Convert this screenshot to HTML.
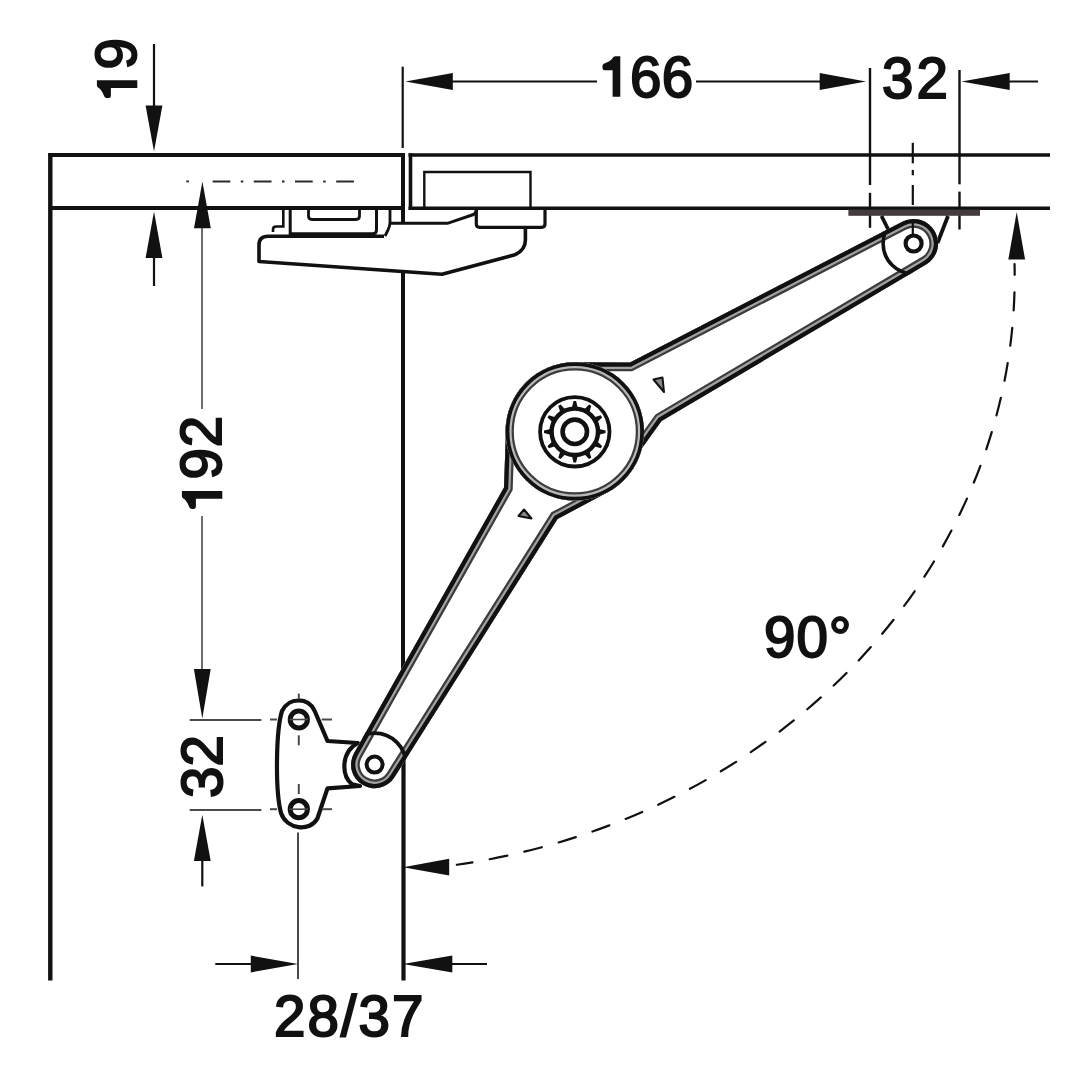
<!DOCTYPE html>
<html><head><meta charset="utf-8"><style>
html,body{margin:0;padding:0;background:#fff;}
svg{display:block;}
text{font-family:"Liberation Sans",sans-serif;font-size:56.5px;fill:#111111;stroke:#111111;stroke-width:2px;}
.h{fill:none;stroke:none;}
</style></head><body>
<svg width="1080" height="1080" viewBox="0 0 1080 1080">
<rect width="1080" height="1080" fill="#fff"/>
<line x1="48.5" y1="155" x2="404.5" y2="155" stroke="#111111" stroke-width="4" />
<line x1="50.3" y1="153" x2="50.3" y2="980.5" stroke="#111111" stroke-width="4.4" />
<line x1="50" y1="208" x2="403" y2="208" stroke="#111111" stroke-width="4" />
<line x1="403" y1="153" x2="403" y2="671" stroke="#111111" stroke-width="4" />
<line x1="403.5" y1="760" x2="403.5" y2="980.5" stroke="#111111" stroke-width="4.2" />
<line x1="408.5" y1="155" x2="1050" y2="155" stroke="#111111" stroke-width="3.6" />
<line x1="410.5" y1="153.2" x2="410.5" y2="210" stroke="#111111" stroke-width="3.6" />
<line x1="408.5" y1="208.2" x2="1050" y2="208.2" stroke="#111111" stroke-width="3.6" />
<polyline points="424.3,208 424.3,172 530.5,172 530.5,208" fill="none" stroke="#111111" stroke-width="2.4"/>
<path d="M268,236.3 Q259,236.3 259,245 V261.5 L442,274.3 L515,254.7 Q525.4,250 525.4,240 V227.3 H476.3 V212 L447.5,223.3 H390 L385,236 Z" fill="#fff"/>
<path d="M476.3,208 V224 Q476.3,227.3 479.6,227.3 H541.7 Q545,227.3 545,224 V208" fill="none" stroke="#111111" stroke-width="3.2"/>
<path d="M283.3,208 V226.5 H276 Q273,226.5 273,229.5 V232" fill="none" stroke="#111111" stroke-width="2.6"/>
<path d="M290.2,208 V233.8 H372.5 Q376.5,233.8 376.5,229.8 V208" fill="none" stroke="#111111" stroke-width="3"/>
<path d="M308.5,208 V216 Q308.5,219.5 312,219.5 H356 Q359.5,219.5 359.5,216 V208" fill="none" stroke="#111111" stroke-width="2.8"/>
<path d="M390,208 V222 Q390,226 388,230 L385,236" fill="none" stroke="#111111" stroke-width="2.8"/>
<path d="M390,223.3 H447.5 L473.5,214.5 Q476.3,213 476.3,210" fill="none" stroke="#111111" stroke-width="3"/>
<path d="M384,236.3 H268 Q259,236.3 259,245 V261.5 L442,274.3 L515,254.7 Q525.4,250 525.4,240 V227.3" fill="none" stroke="#111111" stroke-width="3.6" stroke-linejoin="round"/>
<line x1="154" y1="44" x2="154" y2="106" stroke="#111111" stroke-width="2.2" />
<polygon points="154.0,151.5 145.6,105.5 162.4,105.5" fill="#111111"/>
<polygon points="154.0,211.5 162.4,258.0 145.6,258.0" fill="#111111"/>
<line x1="154" y1="257" x2="154" y2="286" stroke="#111111" stroke-width="2.2" />
<text x="136" y="102" letter-spacing="1" transform="rotate(-90 136 102)"><tspan class="h">1</tspan>9</text>
<path d="M0,0 L0,40.4 L-7.7,40.4 L-7.7,14 L-15.5,14 Q-17.8,14 -17.8,12 L-17.8,9.5 Q-17.8,8 -16,7.3 Q-9.5,5 -7.5,1.5 Q-6.8,0 -5,0 Z" transform="translate(96.9 80.3) rotate(-90)" fill="#111111"/>
<line x1="402.7" y1="66.7" x2="402.7" y2="148" stroke="#111111" stroke-width="2.2" />
<polygon points="405.4,81.5 452.8,73.1 452.8,89.9" fill="#111111"/>
<line x1="452" y1="81.5" x2="597" y2="81.5" stroke="#111111" stroke-width="2" />
<text x="598" y="97" letter-spacing="0.5"><tspan class="h">1</tspan>66</text>
<path d="M0,0 L0,40.4 L-7.7,40.4 L-7.7,14 L-15.5,14 Q-17.8,14 -17.8,12 L-17.8,9.5 Q-17.8,8 -16,7.3 Q-9.5,5 -7.5,1.5 Q-6.8,0 -5,0 Z" transform="translate(620.3 56.3)" fill="#111111"/>
<line x1="696" y1="81.5" x2="821" y2="81.5" stroke="#111111" stroke-width="2" />
<polygon points="866.0,81.5 819.7,89.9 819.7,73.1" fill="#111111"/>
<line x1="870" y1="68" x2="870" y2="185" stroke="#111111" stroke-width="2.4" />
<line x1="870" y1="192.8" x2="870" y2="227.8" stroke="#111111" stroke-width="2.4" />
<text x="882" y="98" letter-spacing="3">32</text>
<line x1="959.5" y1="70" x2="959.5" y2="184.3" stroke="#111111" stroke-width="2.4" />
<line x1="959.5" y1="191.6" x2="959.5" y2="229.5" stroke="#111111" stroke-width="2.4" />
<polygon points="961.5,81.5 1009.7,73.1 1009.7,89.9" fill="#111111"/>
<line x1="1009" y1="81.5" x2="1038" y2="81.5" stroke="#111111" stroke-width="2" />
<line x1="912.8" y1="142.8" x2="912.8" y2="163.3" stroke="#111111" stroke-width="2.2" />
<line x1="912.8" y1="169.9" x2="912.8" y2="175.3" stroke="#111111" stroke-width="2.2" />
<line x1="912.8" y1="185" x2="912.8" y2="205" stroke="#111111" stroke-width="2.2" />
<rect x="848.4" y="209.6" width="131.6" height="6.2" fill="#433b3e"/>
<path d="M881.5,216 L889.5,232" stroke="#111111" stroke-width="3.8" fill="none"/>
<path d="M948,216 L937.5,243" stroke="#111111" stroke-width="3.8" fill="none"/>
<line x1="212.6" y1="181.4" x2="358" y2="181.4" stroke="#2a2a2a" stroke-width="2" stroke-dasharray="17.7 10.5 2.5 10.5"/>
<line x1="186.3" y1="181.4" x2="188.8" y2="181.4" stroke="#2a2a2a" stroke-width="2" />
<polygon points="202.4,181.4 210.8,228.2 194.0,228.2" fill="#111111"/>
<line x1="202" y1="228" x2="202" y2="409" stroke="#4a4a4a" stroke-width="1.6" />
<text x="221" y="512" letter-spacing="1" transform="rotate(-90 221 512)"><tspan class="h">1</tspan>92</text>
<path d="M0,0 L0,40.4 L-7.7,40.4 L-7.7,14 L-15.5,14 Q-17.8,14 -17.8,12 L-17.8,9.5 Q-17.8,8 -16,7.3 Q-9.5,5 -7.5,1.5 Q-6.8,0 -5,0 Z" transform="translate(181.9 491.1) rotate(-90)" fill="#111111"/>
<line x1="202" y1="516" x2="202" y2="669" stroke="#4a4a4a" stroke-width="1.6" />
<polygon points="202.3,718.6 193.9,669.0 210.7,669.0" fill="#111111"/>
<line x1="189.7" y1="720" x2="261.4" y2="720" stroke="#4a4a4a" stroke-width="2" />
<line x1="189.7" y1="810" x2="261.4" y2="810" stroke="#4a4a4a" stroke-width="2" />
<polygon points="202.3,814.7 210.7,861.0 193.9,861.0" fill="#111111"/>
<line x1="202.3" y1="860" x2="202.3" y2="886.4" stroke="#111111" stroke-width="2.2" />
<text x="222" y="798" letter-spacing="0" transform="rotate(-90 222 798)">32</text>
<line x1="298" y1="832.6" x2="298" y2="979" stroke="#4a4a4a" stroke-width="2" />
<line x1="215.3" y1="964" x2="252" y2="964" stroke="#111111" stroke-width="2.2" />
<polygon points="298.0,964.0 250.8,972.4 250.8,955.6" fill="#111111"/>
<polygon points="403.0,964.0 452.3,955.6 452.3,972.4" fill="#111111"/>
<line x1="451" y1="964" x2="487" y2="964" stroke="#111111" stroke-width="2.2" />
<text x="274" y="1036" letter-spacing="2">28/37</text>
<polygon points="1016.7,212.0 1025.1,259.6 1008.3,259.6" fill="#111111"/>
<polygon points="403.0,867.2 449.2,858.8 449.2,875.6" fill="#111111"/>
<text x="764" y="657" letter-spacing="1">90°</text>
<path d="M1014.54,264.00 A664.0,595.5 0 0 1 456.86,864.74" fill="none" stroke="#111111" stroke-width="2.2" stroke-linecap="round" stroke-dasharray="18 17.5" stroke-dashoffset="42.6"/>
<path d="M357.8,743 L327.5,741 L314.6,710.8 C308,697 289,697 282,711 C276,730 275,790 281,813 C287,830 310,832 317.4,818.5 L327.5,788.4 L360,786 L352,784.2 C341,775 341,752 357.8,743 Z" fill="#fff" stroke="#111111" stroke-width="4.2" stroke-linejoin="round"/>
<circle cx="298.8" cy="719.5" r="8.6" fill="#fff" stroke="#111111" stroke-width="5"/>
<line x1="270" y1="719.5" x2="277" y2="719.5" stroke="#4a4a4a" stroke-width="2" />
<line x1="321.7" y1="719.5" x2="332" y2="719.5" stroke="#4a4a4a" stroke-width="2" />
<line x1="289.5" y1="719.5" x2="308" y2="719.5" stroke="#4a4a4a" stroke-width="1.6" />
<circle cx="298.8" cy="809.2" r="8.6" fill="#fff" stroke="#111111" stroke-width="5"/>
<line x1="270" y1="809.2" x2="277" y2="809.2" stroke="#4a4a4a" stroke-width="2" />
<line x1="321.7" y1="809.2" x2="332" y2="809.2" stroke="#4a4a4a" stroke-width="2" />
<line x1="289.5" y1="809.2" x2="308" y2="809.2" stroke="#4a4a4a" stroke-width="1.6" />
<line x1="298.8" y1="693.6" x2="298.8" y2="699.4" stroke="#4a4a4a" stroke-width="2" />
<line x1="298.8" y1="735.3" x2="298.8" y2="745.3" stroke="#4a4a4a" stroke-width="2" />
<line x1="298.8" y1="784" x2="298.8" y2="794" stroke="#4a4a4a" stroke-width="2" />
<defs><clipPath id="lev"><path d="M574.80,362.20 L630.00,362.50 L902.35,221.74 A24.5,24.5 0 0 1 926.07,264.59 L661.50,421.00 L641.94,448.14 A69.2,69.2 0 0 1 606.22,493.06 L557.50,519.00 L394.47,777.15 A23.5,23.5 0 0 1 354.13,753.05 L504.00,487.50 L505.77,436.23 A69.2,69.2 0 0 1 574.80,362.20 Z"/></clipPath><clipPath id="hubc"><circle cx="574.8" cy="431.4" r="69.2"/></clipPath></defs>
<path d="M574.80,362.20 L630.00,362.50 L902.35,221.74 A24.5,24.5 0 0 1 926.07,264.59 L661.50,421.00 L641.94,448.14 A69.2,69.2 0 0 1 606.22,493.06 L557.50,519.00 L394.47,777.15 A23.5,23.5 0 0 1 354.13,753.05 L504.00,487.50 L505.77,436.23 A69.2,69.2 0 0 1 574.80,362.20 Z" fill="#fff"/>
<g clip-path="url(#lev)" fill="none">
<path d="M574.80,362.20 L630.00,362.50 L902.35,221.74 A24.5,24.5 0 0 1 926.07,264.59 L661.50,421.00 L641.94,448.14 A69.2,69.2 0 0 1 606.22,493.06 L557.50,519.00 L394.47,777.15 A23.5,23.5 0 0 1 354.13,753.05 L504.00,487.50 L505.77,436.23 A69.2,69.2 0 0 1 574.80,362.20 Z" stroke="#3c3c3c" stroke-width="17.5"/>
<path d="M574.80,362.20 L630.00,362.50 L902.35,221.74 A24.5,24.5 0 0 1 926.07,264.59 L661.50,421.00 L641.94,448.14 A69.2,69.2 0 0 1 606.22,493.06 L557.50,519.00 L394.47,777.15 A23.5,23.5 0 0 1 354.13,753.05 L504.00,487.50 L505.77,436.23 A69.2,69.2 0 0 1 574.80,362.20 Z" stroke="#a2a2a2" stroke-width="13"/>
<path d="M574.80,362.20 L630.00,362.50 L902.35,221.74 A24.5,24.5 0 0 1 926.07,264.59 L661.50,421.00 L641.94,448.14 A69.2,69.2 0 0 1 606.22,493.06 L557.50,519.00 L394.47,777.15 A23.5,23.5 0 0 1 354.13,753.05 L504.00,487.50 L505.77,436.23 A69.2,69.2 0 0 1 574.80,362.20 Z" stroke="#111111" stroke-width="8.6"/>
<circle cx="913.6" cy="243.5" r="30.5" stroke="#111111" stroke-width="3.6"/>
<circle cx="374.6" cy="764.6" r="31.5" stroke="#111111" stroke-width="3.8"/>
</g>
<circle cx="574.8" cy="431.4" r="69.2" fill="#fff"/>
<g clip-path="url(#hubc)" fill="none">
<circle cx="574.8" cy="431.4" r="69.2" stroke="#3c3c3c" stroke-width="16.5"/>
<circle cx="574.8" cy="431.4" r="69.2" stroke="#b8b8b8" stroke-width="12"/>
<circle cx="574.8" cy="431.4" r="69.2" stroke="#111111" stroke-width="7.6"/>
</g>
<circle cx="574.8" cy="431.8" r="34.7" fill="none" stroke="#111111" stroke-width="3.8"/>
<circle cx="574.8" cy="431.8" r="23.2" fill="none" stroke="#111111" stroke-width="4.4"/>
<path d="M571.7,408.5 L573.5,401.0 L576.1,401.0 L577.9,408.5Z M583.8,410.1 L589.0,404.5 L591.3,405.8 L589.1,413.2Z M593.4,417.5 L600.8,415.3 L602.1,417.6 L596.5,422.8Z M598.1,428.7 L605.6,430.5 L605.6,433.1 L598.1,434.9Z M596.5,440.8 L602.1,446.0 L600.8,448.3 L593.4,446.1Z M589.1,450.4 L591.3,457.8 L589.0,459.1 L583.8,453.5Z M577.9,455.1 L576.1,462.6 L573.5,462.6 L571.7,455.1Z M565.8,453.5 L560.6,459.1 L558.3,457.8 L560.5,450.4Z M556.2,446.1 L548.8,448.3 L547.5,446.0 L553.1,440.8Z M551.5,434.9 L544.0,433.1 L544.0,430.5 L551.5,428.7Z M553.1,422.8 L547.5,417.6 L548.8,415.3 L556.2,417.5Z M560.5,413.2 L558.3,405.8 L560.6,404.5 L565.8,410.1Z" fill="#111111"/>
<circle cx="574.8" cy="431.8" r="12.2" fill="none" stroke="#111111" stroke-width="4.6"/>
<circle cx="913.6" cy="243.5" r="8" fill="#fff" stroke="#111111" stroke-width="4.2"/>
<circle cx="374.6" cy="764.6" r="8" fill="#fff" stroke="#111111" stroke-width="4"/>
<line x1="912.8" y1="221" x2="912.8" y2="236" stroke="#111111" stroke-width="2.2" />
<path d="M653.5,379.5 L662.5,377.5 L664,392 Z" fill="#888" stroke="#111111" stroke-width="2" stroke-linejoin="round"/>
<path d="M518.5,516 L524,509.5 L531.5,518.5 Z" fill="#888" stroke="#111111" stroke-width="2" stroke-linejoin="round"/>
</svg></body></html>
